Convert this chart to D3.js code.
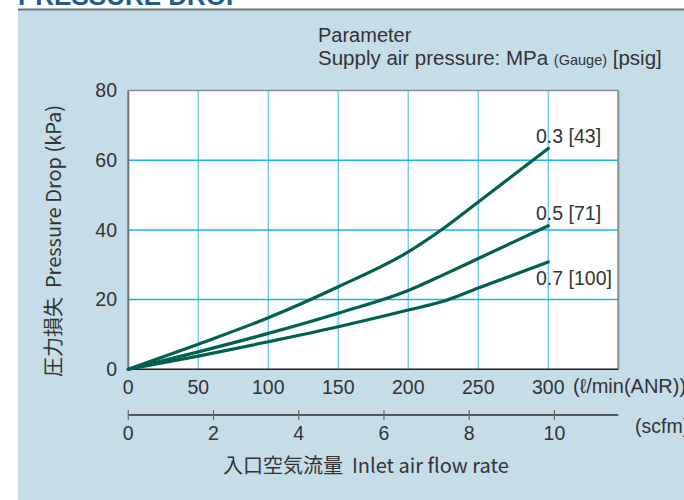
<!DOCTYPE html>
<html>
<head>
<meta charset="utf-8">
<script src="https://cdn.jsdelivr.net/npm/d3@7"></script>
<style>
  html, body { margin: 0; padding: 0; background: #ffffff; }
  svg { display: block; }
  text { font-family: "Liberation Sans", Arial, Helvetica, sans-serif; fill: #333333; }
</style>
</head>
<body>
<svg id="chart" width="684" height="500"></svg>
<script>
// Inlet flow rate (l/min ANR) at which the pressure drop is read
const flowLmin = [0, 50, 100, 150, 200, 225, 250, 300];
// Pressure drop (kPa) per supply pressure
const drop03 = [0, 7.2, 14.8, 23.7, 33.7, 40.4, 48.0, 63.4];
const drop05 = [0, 5.0, 10.3, 16.1, 22.6, 27.1, 31.8, 41.2];
const drop07 = [0, 3.8, 7.9, 12.2, 17.0, 19.5, 23.3, 30.8];
const seriesLabels = ["0.3 [43]", "0.5 [71]", "0.7 [100]"];
// Axis ticks
const xTicks = [0, 50, 100, 150, 200, 250, 300];
const yTicks = [0, 20, 40, 60, 80];
const scfmTicks = [0, 2, 4, 6, 8, 10];

const svg = d3.select("#chart");
const W = 684, H = 500;
const cjk = "\"Noto Sans CJK JP\", \"Liberation Sans\", sans-serif";

// Page title (runs off the top edge)
svg.append("text").attr("x", 18).attr("y", 5)
  .style("font-size", "26px").style("font-weight", "bold").style("fill", "#1f5c94")
  .text("PRESSURE DROP");

// Panel background
svg.append("rect").attr("x", 18).attr("y", 9).attr("width", W - 18).attr("height", H - 9)
  .attr("fill", "#c5dde9");
svg.append("line").attr("x1", 18).attr("x2", W).attr("y1", 9.5).attr("y2", 9.5)
  .attr("stroke", "#6b7479").attr("stroke-width", 2);

const plot = { left: 128.3, right: 618.3, top: 90.5, bottom: 369.3 };
const x = d3.scaleLinear().domain([0, 350]).range([plot.left, plot.right]);
const y = d3.scaleLinear().domain([0, 80]).range([plot.bottom, plot.top]);
const xs = d3.scaleLinear().domain([0, 11.5]).range([plot.left, plot.right]);

// Plot area
svg.append("rect").attr("x", plot.left).attr("y", plot.top)
  .attr("width", plot.right - plot.left).attr("height", plot.bottom - plot.top)
  .attr("fill", "#ffffff");

// Grid
svg.append("g").selectAll("line").data(xTicks.filter(d => d > 0)).join("line")
  .attr("x1", d => x(d)).attr("x2", d => x(d))
  .attr("y1", plot.top).attr("y2", plot.bottom)
  .attr("stroke", "#72cdf2").attr("stroke-width", 1.5);
svg.append("g").selectAll("line").data(yTicks.filter(d => d > 0 && d < 80)).join("line")
  .attr("x1", plot.left).attr("x2", plot.right)
  .attr("y1", d => y(d)).attr("y2", d => y(d))
  .attr("stroke", "#19b4ec").attr("stroke-width", 1.5);

// Frame
svg.append("line").attr("x1", plot.left).attr("x2", plot.right)
  .attr("y1", plot.top).attr("y2", plot.top).attr("stroke", "#8a8f93").attr("stroke-width", 1.5);
svg.append("line").attr("x1", plot.right).attr("x2", plot.right)
  .attr("y1", plot.top).attr("y2", plot.bottom).attr("stroke", "#8a8f93").attr("stroke-width", 2);
svg.append("line").attr("x1", plot.left).attr("x2", plot.left)
  .attr("y1", plot.top).attr("y2", plot.bottom).attr("stroke", "#6f7478").attr("stroke-width", 2);
svg.append("line").attr("x1", plot.left).attr("x2", plot.right)
  .attr("y1", plot.bottom).attr("y2", plot.bottom).attr("stroke", "#222222").attr("stroke-width", 1.5);

// Curves
const line = d3.line().x(d => x(d[0])).y(d => y(d[1])).curve(d3.curveMonotoneX);
const allSeries = [drop03, drop05, drop07];
svg.append("g").selectAll("path").data(allSeries).join("path")
  .attr("d", vals => line(flowLmin.map((f, i) => [f, vals[i]])))
  .attr("fill", "none").attr("stroke", "#00614f").attr("stroke-width", 3.2)
  .attr("stroke-linecap", "round");

// Curve labels
const labelDy = [-5.5, -5.5, 23];
svg.append("g").selectAll("text").data(allSeries).join("text")
  .attr("x", 536)
  .attr("y", (vals, i) => y(vals[vals.length - 1]) + labelDy[i])
  .style("font-size", "19.5px")
  .text((d, i) => seriesLabels[i]);

// Y axis labels
svg.append("g").selectAll("text").data(yTicks).join("text")
  .attr("x", 117).attr("y", d => y(d)).attr("dy", "0.35em")
  .attr("text-anchor", "end").style("font-size", "19.5px")
  .text(d => d);

// X axis labels (l/min)
svg.append("g").selectAll("text").data(xTicks).join("text")
  .attr("x", d => x(d)).attr("y", 394)
  .attr("text-anchor", "middle").style("font-size", "19.5px")
  .text(d => d);
svg.append("text").attr("x", 573).attr("y", 393).style("font-size", "20px")
  .text("(ℓ/min(ANR))");

// Secondary flow axis (scfm)
svg.append("line").attr("x1", xs(0)).attr("x2", plot.right)
  .attr("y1", 415).attr("y2", 415).attr("stroke", "#2b2b2b").attr("stroke-width", 1.3);
svg.append("g").selectAll("line").data(scfmTicks).join("line")
  .attr("x1", d => xs(d)).attr("x2", d => xs(d))
  .attr("y1", 410).attr("y2", 420).attr("stroke", "#6d6d6d").attr("stroke-width", 1.3);
svg.append("g").selectAll("text").data(scfmTicks).join("text")
  .attr("x", d => xs(d)).attr("y", 440)
  .attr("text-anchor", "middle").style("font-size", "19.5px")
  .text(d => d);
svg.append("text").attr("x", 635).attr("y", 433).style("font-size", "19.5px").text("(scfm)");

// Axis titles
svg.append("text").attr("x", 223).attr("y", 473)
  .style("font-size", "20px").style("font-family", cjk)
  .style("white-space", "pre").attr("xml:space", "preserve")
  .text("入口空気流量  Inlet air flow rate");
svg.append("text")
  .attr("transform", "translate(61,241) rotate(-90)")
  .attr("text-anchor", "middle")
  .style("font-size", "20px").style("font-family", cjk)
  .style("white-space", "pre").attr("xml:space", "preserve")
  .text("圧力損失  Pressure Drop (kPa)");

// Parameter note
svg.append("text").attr("x", 318).attr("y", 41.5).style("font-size", "20px").text("Parameter");
const note = svg.append("text").attr("x", 318).attr("y", 65).style("font-size", "20.5px")
  .style("white-space", "pre").attr("xml:space", "preserve");
note.append("tspan").text("Supply air pressure: MPa ");
note.append("tspan").style("font-size", "14.5px").text("(Gauge)");
note.append("tspan").text(" [psig]");
</script>
</body>
</html>
